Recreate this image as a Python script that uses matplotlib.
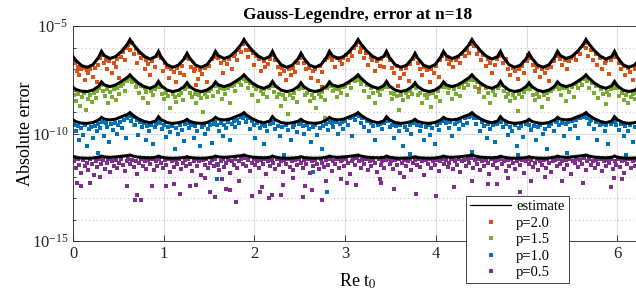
import numpy as np
import matplotlib
matplotlib.use("Agg")
import matplotlib.pyplot as plt
from matplotlib.lines import Line2D
from matplotlib.ticker import FixedLocator, LogFormatterSciNotation, NullFormatter

# ---- data (log10 of the absolute error) ----
est_x = [
    0.000, 0.031, 0.094, 0.157, 0.220, 0.283,
    0.314, 0.345, 0.408, 0.471, 0.534, 0.597,
    0.628, 0.659, 0.722, 0.785, 0.848, 0.911,
    0.942, 0.973, 1.036, 1.099, 1.162, 1.225,
    1.257, 1.288, 1.351, 1.414, 1.477, 1.540,
    1.571, 1.602, 1.665, 1.728, 1.791, 1.854,
    1.885, 1.916, 1.979, 2.042, 2.105, 2.168,
    2.199, 2.230, 2.293, 2.356, 2.419, 2.482,
    2.513, 2.544, 2.607, 2.670, 2.733, 2.796,
    2.827, 2.858, 2.921, 2.984, 3.047, 3.110,
    3.142, 3.173, 3.236, 3.299, 3.362, 3.425,
    3.456, 3.487, 3.550, 3.613, 3.676, 3.739,
    3.770, 3.801, 3.864, 3.927, 3.990, 4.053,
    4.084, 4.115, 4.178, 4.241, 4.304, 4.367,
    4.398, 4.429, 4.492, 4.555, 4.618, 4.681,
    4.712, 4.743, 4.806, 4.869, 4.932, 4.995,
    5.027, 5.058, 5.121, 5.184, 5.247, 5.310,
    5.341, 5.372, 5.435, 5.498, 5.561, 5.624,
    5.655, 5.686, 5.749, 5.812, 5.875, 5.938,
    5.969, 6.000, 6.063, 6.126, 6.189, 6.252,
    6.283]

est_p20 = [
    -6.42, -6.60, -6.84, -6.92, -6.80, -6.45,
    -6.18, -6.38, -6.51, -6.42, -6.18, -5.86,
    -5.63, -5.83, -6.15, -6.40, -6.54, -6.42,
    -6.18, -6.45, -6.80, -6.92, -6.82, -6.52,
    -6.27, -6.50, -6.82, -6.92, -6.80, -6.45,
    -6.18, -6.38, -6.51, -6.42, -6.18, -5.86,
    -5.63, -5.83, -6.15, -6.40, -6.54, -6.42,
    -6.18, -6.45, -6.80, -6.92, -6.82, -6.52,
    -6.27, -6.50, -6.82, -6.92, -6.80, -6.45,
    -6.18, -6.38, -6.51, -6.42, -6.18, -5.86,
    -5.63, -5.83, -6.15, -6.40, -6.54, -6.42,
    -6.18, -6.45, -6.80, -6.92, -6.82, -6.52,
    -6.27, -6.50, -6.82, -6.92, -6.80, -6.45,
    -6.18, -6.38, -6.51, -6.42, -6.18, -5.86,
    -5.63, -5.83, -6.15, -6.40, -6.54, -6.42,
    -6.18, -6.45, -6.80, -6.92, -6.82, -6.52,
    -6.27, -6.50, -6.82, -6.92, -6.80, -6.45,
    -6.18, -6.38, -6.51, -6.42, -6.18, -5.86,
    -5.63, -5.83, -6.15, -6.40, -6.54, -6.42,
    -6.18, -6.45, -6.80, -6.92, -6.82, -6.52,
    -6.27]

est_p15 = [
    -7.85, -7.95, -8.03, -8.05, -7.98, -7.80,
    -7.60, -7.74, -7.82, -7.74, -7.58, -7.40,
    -7.27, -7.42, -7.66, -7.82, -7.90, -7.78,
    -7.58, -7.78, -7.98, -8.05, -7.99, -7.82,
    -7.64, -7.82, -7.99, -8.05, -7.98, -7.80,
    -7.60, -7.74, -7.82, -7.74, -7.58, -7.40,
    -7.27, -7.42, -7.66, -7.82, -7.90, -7.78,
    -7.58, -7.78, -7.98, -8.05, -7.99, -7.82,
    -7.64, -7.82, -7.99, -8.05, -7.98, -7.80,
    -7.60, -7.74, -7.82, -7.74, -7.58, -7.40,
    -7.27, -7.42, -7.66, -7.82, -7.90, -7.78,
    -7.58, -7.78, -7.98, -8.05, -7.99, -7.82,
    -7.64, -7.82, -7.99, -8.05, -7.98, -7.80,
    -7.60, -7.74, -7.82, -7.74, -7.58, -7.40,
    -7.27, -7.42, -7.66, -7.82, -7.90, -7.78,
    -7.58, -7.78, -7.98, -8.05, -7.99, -7.82,
    -7.64, -7.82, -7.99, -8.05, -7.98, -7.80,
    -7.60, -7.74, -7.82, -7.74, -7.58, -7.40,
    -7.27, -7.42, -7.66, -7.82, -7.90, -7.78,
    -7.58, -7.78, -7.98, -8.05, -7.99, -7.82,
    -7.64]

est_p10 = [
    -9.37, -9.45, -9.52, -9.53, -9.49, -9.37,
    -9.25, -9.33, -9.37, -9.33, -9.22, -9.12,
    -9.03, -9.15, -9.32, -9.44, -9.50, -9.42,
    -9.22, -9.36, -9.49, -9.53, -9.50, -9.43,
    -9.34, -9.44, -9.51, -9.53, -9.49, -9.37,
    -9.25, -9.33, -9.37, -9.33, -9.22, -9.12,
    -9.03, -9.15, -9.32, -9.44, -9.50, -9.42,
    -9.22, -9.36, -9.49, -9.53, -9.50, -9.43,
    -9.34, -9.44, -9.51, -9.53, -9.49, -9.37,
    -9.25, -9.33, -9.37, -9.33, -9.22, -9.12,
    -9.03, -9.15, -9.32, -9.44, -9.50, -9.42,
    -9.22, -9.36, -9.49, -9.53, -9.50, -9.43,
    -9.34, -9.44, -9.51, -9.53, -9.49, -9.37,
    -9.25, -9.33, -9.37, -9.33, -9.22, -9.12,
    -9.03, -9.15, -9.32, -9.44, -9.50, -9.42,
    -9.22, -9.36, -9.49, -9.53, -9.50, -9.43,
    -9.34, -9.44, -9.51, -9.53, -9.49, -9.37,
    -9.25, -9.33, -9.37, -9.33, -9.22, -9.12,
    -9.03, -9.15, -9.32, -9.44, -9.50, -9.42,
    -9.22, -9.36, -9.49, -9.53, -9.50, -9.43,
    -9.34]

est_p05 = [
    -11.08, -11.12, -11.14, -11.15, -11.14, -11.10,
    -11.05, -11.09, -11.11, -11.09, -11.06, -11.03,
    -11.00, -11.05, -11.10, -11.12, -11.13, -11.11,
    -11.05, -11.10, -11.14, -11.15, -11.14, -11.12,
    -11.08, -11.12, -11.14, -11.15, -11.14, -11.10,
    -11.05, -11.09, -11.11, -11.09, -11.06, -11.03,
    -11.00, -11.05, -11.10, -11.12, -11.13, -11.11,
    -11.05, -11.10, -11.14, -11.15, -11.14, -11.12,
    -11.08, -11.12, -11.14, -11.15, -11.14, -11.10,
    -11.05, -11.09, -11.11, -11.09, -11.06, -11.03,
    -11.00, -11.05, -11.10, -11.12, -11.13, -11.11,
    -11.05, -11.10, -11.14, -11.15, -11.14, -11.12,
    -11.08, -11.12, -11.14, -11.15, -11.14, -11.10,
    -11.05, -11.09, -11.11, -11.09, -11.06, -11.03,
    -11.00, -11.05, -11.10, -11.12, -11.13, -11.11,
    -11.05, -11.10, -11.14, -11.15, -11.14, -11.12,
    -11.08, -11.12, -11.14, -11.15, -11.14, -11.10,
    -11.05, -11.09, -11.11, -11.09, -11.06, -11.03,
    -11.00, -11.05, -11.10, -11.12, -11.13, -11.11,
    -11.05, -11.10, -11.14, -11.15, -11.14, -11.12,
    -11.08]

p20_x = [0.02, 0.04, 0.05, 0.07, 0.09, 0.11, 0.13, 0.15, 0.16, 0.19, 0.22, 0.24, 0.26, 0.28, 0.30, 0.32, 0.34, 0.36, 0.38, 0.40,
         0.43, 0.45, 0.47, 0.49, 0.51, 0.53, 0.55, 0.57, 0.59, 0.61, 0.63, 0.65, 0.67, 0.69, 0.71, 0.73, 0.75, 0.77, 0.79, 0.81,
         0.83, 0.85, 0.87, 0.90, 0.93, 0.95, 0.97, 0.99, 1.01, 1.04, 1.06, 1.08, 1.11, 1.13, 1.15, 1.18, 1.20, 1.22, 1.24, 1.26,
         1.28, 1.30, 1.33, 1.35, 1.38, 1.40, 1.42, 1.45, 1.48, 1.50, 1.53, 1.55, 1.58, 1.60, 1.63, 1.65, 1.67, 1.70, 1.72, 1.75,
         1.77, 1.79, 1.81, 1.83, 1.85, 1.87, 1.89, 1.91, 1.93, 1.95, 1.98, 2.00, 2.02, 2.05, 2.07, 2.10, 2.12, 2.15, 2.17, 2.19,
         2.21, 2.23, 2.26, 2.28, 2.30, 2.33, 2.35, 2.38, 2.40, 2.43, 2.45, 2.48, 2.50, 2.52, 2.55, 2.57, 2.60, 2.62, 2.65, 2.67,
         2.70, 2.72, 2.75, 2.78, 2.80, 2.82, 2.84, 2.86, 2.89, 2.91, 2.94, 2.96, 2.98, 3.01, 3.03, 3.05, 3.08, 3.10, 3.12, 3.14,
         3.16, 3.18, 3.21, 3.23, 3.25, 3.28, 3.30, 3.33, 3.35, 3.38, 3.40, 3.43, 3.45, 3.47, 3.49, 3.52, 3.54, 3.57, 3.60, 3.62,
         3.65, 3.67, 3.70, 3.72, 3.75, 3.77, 3.80, 3.82, 3.85, 3.87, 3.90, 3.93, 3.95, 3.98, 4.00, 4.03, 4.05, 4.07, 4.09, 4.12,
         4.14, 4.17, 4.19, 4.22, 4.24, 4.27, 4.29, 4.32, 4.34, 4.36, 4.38, 4.40, 4.42, 4.45, 4.47, 4.50, 4.52, 4.55, 4.57, 4.60,
         4.62, 4.65, 4.67, 4.70, 4.72, 4.74, 4.77, 4.79, 4.82, 4.85, 4.87, 4.90, 4.92, 4.95, 4.97, 5.00, 5.02, 5.04, 5.07, 5.09,
         5.12, 5.15, 5.17, 5.20, 5.22, 5.25, 5.27, 5.30, 5.32, 5.34, 5.37, 5.39, 5.42, 5.44, 5.47, 5.49, 5.52, 5.54, 5.57, 5.59,
         5.62, 5.64, 5.66, 5.68, 5.71, 5.73, 5.76, 5.78, 5.81, 5.83, 5.86, 5.88, 5.91, 5.93, 5.95, 5.97, 5.99, 6.02, 6.04, 6.07,
         6.09, 6.12, 6.14, 6.17, 6.19, 6.20, 0.48, 2.75, 4.47, 5.98, 1.36, 3.58]
p20_y = [-6.70, -7.10, -6.90, -7.30, -7.00, -6.95, -7.50, -7.05, -7.20, -7.00, -7.35, -6.95, -7.60, -6.80, -6.50, -6.35, -6.70, -6.60, -7.00, -6.65,
         -7.20, -6.70, -6.90, -6.55, -7.40, -6.45, -6.20, -6.60, -6.00, -5.90, -6.10, -5.80, -6.30, -6.05, -6.70, -6.25, -6.50, -6.40, -7.00, -6.60,
         -6.75, -7.30, -6.65, -6.90, -6.40, -6.35, -6.50, -7.10, -6.70, -6.90, -7.40, -7.00, -7.15, -7.60, -6.95, -7.20, -6.85, -7.30, -6.50, -6.40,
         -6.55, -6.90, -7.10, -7.00, -7.45, -7.05, -7.25, -6.95, -7.60, -6.85, -6.55, -6.45, -6.35, -6.50, -6.70, -7.20, -6.60, -6.75, -6.55, -7.00,
         -6.40, -6.30, -6.60, -6.10, -6.20, -5.85, -5.75, -6.10, -6.45, -6.10, -6.25, -6.80, -6.40, -6.55, -7.10, -6.65, -6.90, -6.75, -6.55, -6.35,
         -6.35, -6.60, -6.90, -7.25, -6.95, -7.10, -7.50, -7.00, -7.30, -6.95, -7.15, -6.70, -6.50, -6.40, -6.70, -7.00, -6.95, -7.40, -7.10, -7.00,
         -7.55, -6.85, -7.15, -6.60, -6.50, -6.35, -6.45, -6.60, -6.90, -6.50, -6.60, -6.75, -6.50, -6.35, -6.60, -6.20, -6.40, -6.00, -5.90, -5.75,
         -6.20, -6.00, -6.50, -6.25, -6.80, -6.45, -6.60, -7.10, -6.65, -6.85, -6.55, -6.90, -6.35, -6.40, -6.60, -6.95, -7.20, -6.85, -7.40, -7.00,
         -7.25, -6.95, -7.55, -6.75, -6.55, -6.45, -6.70, -7.00, -7.30, -6.90, -7.05, -7.60, -7.00, -7.20, -6.85, -7.35, -6.60, -6.40, -6.30, -6.55,
         -6.75, -6.60, -6.90, -6.60, -6.45, -6.70, -6.30, -6.40, -6.10, -6.25, -5.85, -5.75, -5.95, -6.30, -6.15, -6.60, -6.35, -6.85, -6.55, -6.70,
         -7.20, -6.80, -6.55, -6.40, -6.35, -6.70, -6.55, -7.00, -7.30, -6.95, -7.10, -7.45, -7.00, -6.85, -7.20, -6.65, -6.35, -6.50, -6.80, -7.10,
         -6.90, -7.35, -7.00, -7.20, -6.95, -7.55, -6.90, -6.65, -6.40, -6.35, -6.55, -6.80, -6.60, -7.00, -6.65, -6.50, -6.40, -6.60, -6.20, -6.30,
         -5.95, -5.80, -6.00, -6.40, -6.10, -6.60, -6.30, -6.80, -6.50, -7.00, -6.70, -6.65, -7.25, -6.60, -6.45, -6.30, -6.45, -6.70, -7.00, -6.85,
         -7.30, -6.95, -7.15, -7.50, -7.00, -6.85, -7.90, -7.85, -7.95, -7.90, -7.75, -7.80]

p15_x = [0.01, 0.03, 0.05, 0.08, 0.10, 0.12, 0.14, 0.17, 0.19, 0.21, 0.23, 0.25, 0.27, 0.29, 0.31, 0.33, 0.35, 0.37, 0.39, 0.41,
         0.43, 0.45, 0.47, 0.49, 0.51, 0.53, 0.55, 0.57, 0.59, 0.61, 0.63, 0.65, 0.67, 0.69, 0.71, 0.73, 0.75, 0.77, 0.79, 0.81,
         0.83, 0.86, 0.88, 0.90, 0.92, 0.94, 0.96, 0.98, 1.00, 1.03, 1.05, 1.07, 1.10, 1.12, 1.14, 1.17, 1.19, 1.21, 1.23, 1.25,
         1.27, 1.29, 1.31, 1.34, 1.36, 1.39, 1.41, 1.43, 1.46, 1.48, 1.50, 1.52, 1.54, 1.56, 1.58, 1.60, 1.62, 1.64, 1.66, 1.68,
         1.71, 1.73, 1.75, 1.77, 1.79, 1.81, 1.83, 1.85, 1.87, 1.89, 1.91, 1.93, 1.95, 1.97, 2.00, 2.02, 2.04, 2.07, 2.09, 2.11,
         2.14, 2.16, 2.18, 2.20, 2.22, 2.25, 2.27, 2.29, 2.32, 2.34, 2.37, 2.39, 2.42, 2.44, 2.47, 2.49, 2.51, 2.53, 2.56, 2.58,
         2.61, 2.63, 2.66, 2.68, 2.71, 2.73, 2.75, 2.78, 2.80, 2.82, 2.84, 2.87, 2.89, 2.91, 2.93, 2.95, 2.98, 3.00, 3.02, 3.04,
         3.06, 3.09, 3.11, 3.13, 3.15, 3.17, 3.19, 3.21, 3.24, 3.26, 3.28, 3.31, 3.33, 3.36, 3.38, 3.41, 3.43, 3.45, 3.47, 3.50,
         3.52, 3.54, 3.57, 3.59, 3.62, 3.64, 3.67, 3.69, 3.71, 3.74, 3.76, 3.78, 3.80, 3.83, 3.85, 3.88, 3.90, 3.92, 3.95, 3.97,
         4.00, 4.02, 4.04, 4.06, 4.08, 4.10, 4.13, 4.15, 4.18, 4.20, 4.22, 4.25, 4.27, 4.29, 4.31, 4.33, 4.35, 4.37, 4.39, 4.41,
         4.43, 4.45, 4.48, 4.50, 4.53, 4.55, 4.58, 4.60, 4.63, 4.65, 4.68, 4.70, 4.72, 4.75, 4.77, 4.80, 4.82, 4.85, 4.87, 4.90,
         4.92, 4.95, 4.97, 5.00, 5.02, 5.04, 5.07, 5.09, 5.12, 5.14, 5.17, 5.19, 5.22, 5.24, 5.27, 5.29, 5.31, 5.33, 5.36, 5.38,
         5.40, 5.43, 5.45, 5.47, 5.50, 5.52, 5.54, 5.57, 5.59, 5.61, 5.63, 5.65, 5.67, 5.69, 5.72, 5.74, 5.77, 5.79, 5.82, 5.84,
         5.87, 5.89, 5.91, 5.93, 5.95, 5.97, 6.00, 6.02, 6.05, 6.07, 6.10, 6.12, 6.15, 6.17, 6.19, 6.20,
         0.67, 2.78, 3.93, 5.05, 5.70]
p15_y = [-8.20, -8.50, -8.15, -8.70, -8.30, -8.10, -8.90, -8.40, -8.20, -8.55, -8.10, -8.35, -8.00, -7.90, -7.75, -8.00, -8.25, -7.95, -8.60, -8.05,
         -8.30, -7.95, -8.45, -7.90, -8.15, -7.80, -7.70, -8.00, -7.55, -7.45, -7.40, -7.60, -7.55, -7.85, -7.70, -8.10, -7.80, -8.35, -7.90, -8.05,
         -8.60, -8.00, -8.20, -7.95, -7.85, -7.70, -7.85, -8.15, -8.40, -8.10, -8.25, -8.80, -8.15, -8.30, -8.55, -8.20, -8.10, -8.45, -7.95, -7.80,
         -7.85, -8.10, -8.30, -8.15, -8.60, -8.20, -8.35, -9.00, -8.15, -8.30, -8.00, -7.95, -8.25, -7.75, -7.80, -8.05, -7.90, -8.40, -7.95, -8.15,
         -7.90, -8.60, -7.80, -7.75, -8.00, -7.60, -7.55, -7.75, -7.40, -7.45, -7.55, -7.90, -7.65, -8.20, -7.80, -7.95, -8.50, -8.00, -8.15, -7.95,
         -8.30, -7.90, -7.80, -7.80, -8.05, -8.30, -8.15, -8.70, -8.20, -8.40, -9.10, -8.20, -8.35, -8.10, -8.55, -7.95, -7.80, -7.90, -8.20, -8.10,
         -8.50, -8.20, -8.35, -8.80, -8.15, -8.30, -8.05, -8.45, -7.90, -7.75, -7.80, -8.00, -7.95, -8.30, -7.95, -8.10, -7.85, -7.80, -8.20, -7.65,
         -7.90, -7.50, -7.55, -7.40, -7.50, -7.70, -7.55, -8.00, -7.75, -8.30, -7.90, -8.10, -8.60, -8.00, -8.20, -7.95, -7.85, -7.75, -7.85, -8.10,
         -8.40, -8.15, -8.25, -8.90, -8.20, -8.45, -8.10, -8.30, -8.00, -8.15, -7.80, -7.90, -8.20, -8.10, -8.60, -8.20, -8.35, -8.15, -8.75, -8.10,
         -8.30, -8.00, -8.50, -7.85, -7.75, -7.85, -8.10, -7.90, -8.40, -7.95, -8.15, -7.85, -8.25, -7.70, -7.90, -7.60, -7.75, -7.50, -7.40, -7.50,
         -7.85, -7.60, -8.05, -7.75, -8.30, -7.90, -8.10, -8.60, -8.00, -8.20, -7.90, -7.80, -7.75, -8.00, -8.30, -8.15, -8.50, -8.20, -8.35, -8.95,
         -8.15, -8.30, -8.05, -7.95, -7.80, -7.95, -8.20, -8.45, -8.15, -8.30, -8.75, -8.20, -8.10, -8.40, -8.00, -7.95, -7.85, -7.75, -7.95, -8.20,
         -7.90, -8.50, -7.90, -8.05, -7.85, -8.30, -7.70, -7.90, -7.55, -7.75, -7.45, -7.35, -7.55, -7.90, -7.65, -8.10, -7.80, -8.35, -7.95, -8.15,
         -8.65, -8.05, -8.20, -7.95, -7.85, -7.75, -7.90, -8.25, -8.10, -8.45, -8.20, -8.60, -8.30, -8.15, -8.40, -8.10,
         -9.60, -9.30, -9.60, -9.80, -9.40]

p10_x = [0.01, 0.03, 0.05, 0.07, 0.09, 0.11, 0.13, 0.15, 0.18, 0.20, 0.22, 0.24, 0.26, 0.28, 0.30, 0.32, 0.34, 0.36, 0.38, 0.40,
         0.42, 0.44, 0.46, 0.48, 0.50, 0.52, 0.54, 0.56, 0.58, 0.60, 0.62, 0.64, 0.66, 0.68, 0.70, 0.72, 0.74, 0.76, 0.78, 0.80,
         0.82, 0.84, 0.86, 0.88, 0.90, 0.92, 0.94, 0.96, 0.98, 1.00, 1.02, 1.05, 1.07, 1.09, 1.12, 1.14, 1.16, 1.18, 1.20, 1.22,
         1.24, 1.26, 1.28, 1.30, 1.33, 1.35, 1.37, 1.40, 1.42, 1.44, 1.46, 1.49, 1.51, 1.53, 1.55, 1.57, 1.59, 1.61, 1.63, 1.65,
         1.67, 1.69, 1.71, 1.73, 1.75, 1.77, 1.79, 1.81, 1.83, 1.85, 1.87, 1.89, 1.91, 1.93, 1.95, 1.97, 1.99, 2.01, 2.03, 2.06,
         2.08, 2.10, 2.12, 2.14, 2.17, 2.19, 2.21, 2.23, 2.26, 2.28, 2.30, 2.33, 2.35, 2.37, 2.40, 2.42, 2.44, 2.47, 2.49, 2.51,
         2.53, 2.55, 2.58, 2.60, 2.62, 2.65, 2.67, 2.69, 2.72, 2.74, 2.76, 2.79, 2.81, 2.83, 2.85, 2.87, 2.90, 2.92, 2.94, 2.96,
         2.98, 3.00, 3.03, 3.05, 3.07, 3.09, 3.11, 3.13, 3.15, 3.17, 3.19, 3.21, 3.24, 3.26, 3.28, 3.31, 3.33, 3.36, 3.38, 3.41,
         3.43, 3.45, 3.47, 3.49, 3.52, 3.54, 3.56, 3.59, 3.61, 3.64, 3.66, 3.68, 3.71, 3.73, 3.75, 3.77, 3.79, 3.82, 3.84, 3.87,
         3.89, 3.91, 3.94, 3.96, 3.99, 4.01, 4.03, 4.05, 4.07, 4.09, 4.11, 4.14, 4.16, 4.18, 4.21, 4.23, 4.25, 4.27, 4.30, 4.32,
         4.34, 4.36, 4.38, 4.40, 4.42, 4.44, 4.46, 4.49, 4.51, 4.53, 4.56, 4.58, 4.60, 4.63, 4.65, 4.67, 4.70, 4.72, 4.74, 4.77,
         4.79, 4.82, 4.84, 4.87, 4.89, 4.92, 4.94, 4.96, 4.99, 5.01, 5.03, 5.05, 5.08, 5.10, 5.13, 5.15, 5.18, 5.20, 5.23, 5.25,
         5.27, 5.30, 5.32, 5.34, 5.36, 5.39, 5.41, 5.43, 5.46, 5.48, 5.50, 5.53, 5.55, 5.57, 5.59, 5.61, 5.63, 5.65, 5.67, 5.69,
         5.71, 5.74, 5.76, 5.78, 5.81, 5.83, 5.86, 5.88, 5.90, 5.93, 5.95, 5.97, 5.99, 6.02, 6.04, 6.07, 6.09, 6.12, 6.14, 6.17,
         6.19, 1.60, 1.59, 2.65, 2.80, 4.90, 0.28, 3.72, 5.45, 6.10, 4.40]
p10_y = [-9.60, -9.90, -9.65, -10.30, -9.75, -10.05, -9.60, -10.60, -9.80, -9.70, -10.20, -9.65, -9.90, -9.55, -9.75, -9.45, -10.10, -9.50, -9.70, -10.40,
         -9.55, -9.85, -9.50, -10.00, -9.60, -9.45, -9.75, -9.35, -10.20, -9.30, -9.20, -9.40, -9.25, -9.60, -9.35, -10.05, -9.45, -9.70, -9.50, -10.30,
         -9.65, -9.90, -9.60, -10.50, -9.70, -9.55, -9.40, -9.50, -9.80, -9.60, -10.15, -9.70, -9.95, -9.65, -10.70, -9.75, -10.00, -9.60, -9.85, -10.35,
         -9.55, -9.50, -9.75, -9.60, -10.20, -9.65, -9.90, -10.60, -9.70, -9.60, -10.00, -9.80, -9.60, -10.45, -9.55, -9.45, -9.60, -9.90, -9.50, -10.10,
         -9.60, -9.75, -9.45, -10.30, -9.55, -9.40, -9.70, -9.35, -9.50, -9.25, -9.30, -9.20, -9.45, -9.30, -9.80, -9.40, -9.60, -10.20, -9.50, -9.75,
         -9.60, -10.50, -9.65, -9.90, -9.55, -9.45, -9.50, -9.80, -9.65, -10.10, -9.70, -11.00, -9.60, -9.85, -10.30, -9.70, -9.60, -9.95, -9.55, -9.50,
         -9.65, -10.00, -9.60, -9.80, -10.40, -9.70, -9.60, -10.05, -9.75, -10.70, -9.65, -9.55, -9.85, -9.45, -9.50, -9.70, -9.45, -10.00, -9.55, -9.45,
         -9.80, -9.40, -9.60, -9.30, -10.10, -9.25, -9.35, -9.15, -9.20, -9.50, -9.30, -9.70, -9.40, -9.90, -9.50, -9.65, -10.30, -9.60, -9.55, -9.80,
         -9.50, -9.35, -9.40, -9.70, -9.60, -10.20, -9.65, -9.90, -9.60, -10.60, -9.70, -9.85, -9.60, -10.00, -9.50, -9.45, -9.60, -9.90, -9.65, -10.30,
         -9.70, -9.60, -10.05, -9.75, -10.50, -9.60, -9.85, -9.50, -9.40, -9.35, -9.50, -9.75, -9.45, -10.10, -9.55, -9.45, -9.80, -9.40, -9.60, -9.30,
         -9.50, -9.25, -9.20, -9.15, -9.30, -9.55, -9.30, -9.90, -9.45, -9.65, -10.20, -9.55, -9.80, -9.60, -10.40, -9.55, -9.40, -9.45, -9.70, -9.55,
         -10.05, -9.70, -9.90, -9.60, -10.60, -9.75, -9.65, -10.15, -9.55, -9.50, -9.60, -9.85, -9.65, -10.30, -9.70, -9.60, -10.00, -9.80, -10.70, -9.65,
         -9.55, -9.90, -9.45, -9.40, -9.60, -9.50, -10.10, -9.55, -9.45, -9.80, -9.40, -9.65, -9.35, -10.20, -9.30, -9.20, -9.25, -9.15, -9.30, -9.55,
         -9.35, -9.80, -9.45, -10.30, -9.60, -9.55, -9.90, -9.60, -10.50, -9.55, -9.45, -9.40, -9.60, -9.85, -9.55, -10.10, -9.65, -9.90, -9.60, -10.40,
         -9.70, -11.45, -12.10, -11.80, -12.70, -11.00, -10.90, -10.95, -10.90, -11.00, -10.85]

p05_x = [0.01, 0.03, 0.05, 0.07, 0.09, 0.11, 0.13, 0.15, 0.17, 0.19, 0.21, 0.23, 0.25, 0.27, 0.29, 0.31, 0.33, 0.35, 0.37, 0.39,
         0.41, 0.43, 0.45, 0.47, 0.49, 0.51, 0.53, 0.55, 0.57, 0.59, 0.61, 0.63, 0.65, 0.67, 0.69, 0.71, 0.73, 0.75, 0.77, 0.79,
         0.81, 0.83, 0.85, 0.87, 0.89, 0.91, 0.93, 0.95, 0.97, 0.99, 1.01, 1.03, 1.05, 1.07, 1.09, 1.11, 1.13, 1.15, 1.17, 1.19,
         1.21, 1.23, 1.25, 1.27, 1.29, 1.31, 1.33, 1.35, 1.37, 1.39, 1.41, 1.43, 1.45, 1.47, 1.49, 1.51, 1.53, 1.55, 1.57, 1.59,
         1.61, 1.63, 1.65, 1.67, 1.69, 1.71, 1.73, 1.75, 1.77, 1.79, 1.81, 1.83, 1.85, 1.87, 1.89, 1.91, 1.93, 1.95, 1.97, 1.99,
         2.01, 2.03, 2.05, 2.07, 2.09, 2.11, 2.13, 2.15, 2.17, 2.19, 2.21, 2.23, 2.25, 2.27, 2.29, 2.31, 2.33, 2.35, 2.37, 2.39,
         2.41, 2.43, 2.45, 2.47, 2.49, 2.51, 2.53, 2.55, 2.57, 2.59, 2.61, 2.63, 2.65, 2.67, 2.69, 2.71, 2.73, 2.75, 2.77, 2.79,
         2.81, 2.83, 2.85, 2.87, 2.89, 2.91, 2.93, 2.95, 2.97, 2.99, 3.01, 3.03, 3.05, 3.07, 3.09, 3.11, 3.13, 3.15, 3.17, 3.19,
         3.21, 3.23, 3.25, 3.27, 3.29, 3.31, 3.33, 3.35, 3.37, 3.39, 3.41, 3.43, 3.45, 3.47, 3.49, 3.51, 3.53, 3.55, 3.57, 3.59,
         3.61, 3.63, 3.65, 3.67, 3.69, 3.71, 3.73, 3.75, 3.77, 3.79, 3.81, 3.83, 3.85, 3.87, 3.89, 3.91, 3.93, 3.95, 3.97, 3.99,
         4.01, 4.03, 4.05, 4.07, 4.09, 4.11, 4.13, 4.15, 4.17, 4.19, 4.21, 4.23, 4.25, 4.27, 4.29, 4.31, 4.33, 4.35, 4.37, 4.39,
         4.41, 4.43, 4.45, 4.47, 4.49, 4.51, 4.53, 4.55, 4.57, 4.59, 4.61, 4.63, 4.65, 4.67, 4.69, 4.71, 4.73, 4.75, 4.77, 4.79,
         4.81, 4.83, 4.85, 4.87, 4.89, 4.91, 4.93, 4.95, 4.97, 4.99, 5.01, 5.03, 5.05, 5.07, 5.09, 5.11, 5.13, 5.15, 5.17, 5.19,
         5.21, 5.23, 5.25, 5.27, 5.29, 5.31, 5.33, 5.35, 5.37, 5.39, 5.41, 5.43, 5.45, 5.47, 5.49, 5.51, 5.53, 5.55, 5.57, 5.59,
         5.61, 5.63, 5.65, 5.67, 5.69, 5.71, 5.73, 5.75, 5.77, 5.79, 5.81, 5.83, 5.85, 5.87, 5.89, 5.91, 5.93, 5.95, 5.97, 5.99,
         6.01, 6.03, 6.05, 6.07, 6.09, 6.11, 6.13, 6.15, 6.17, 6.19, 6.20,
         0.04, 0.09, 0.19, 0.59, 0.70, 0.68, 0.75, 0.87, 1.02, 1.11, 1.18, 1.29, 1.36, 1.51, 1.56, 1.64, 1.69, 1.73, 1.80, 1.83,
         1.97, 2.06, 2.08, 2.16, 2.19, 2.29, 2.32, 2.43, 2.54, 2.56, 2.64, 2.74, 2.79, 3.02, 3.12, 3.38, 3.40, 3.54, 3.78, 4.00,
         4.20, 4.40, 4.58, 4.67, 4.93, 5.05, 5.20, 5.39, 5.62, 5.93, 5.96, 0.30, 1.45, 2.95, 3.65, 4.80, 6.05]
p05_y = [-11.30, -11.60, -11.20, -11.45, -11.85, -11.25, -11.50, -11.35, -11.70, -11.20, -11.40, -11.95, -11.30, -11.55, -11.20, -11.40, -11.25, -11.65, -11.35, -11.20,
         -11.80, -11.30, -11.50, -11.25, -11.60, -11.35, -11.20, -11.45, -11.75, -11.30, -11.20, -11.40, -11.25, -11.55, -11.30, -11.90, -11.35, -11.20, -11.50, -11.30,
         -11.65, -11.25, -11.40, -11.20, -11.70, -11.30, -11.50, -11.20, -11.35, -11.60, -11.25, -11.45, -11.20, -11.80, -11.30, -11.55, -11.25, -11.40, -11.20, -11.65,
         -11.35, -11.25, -11.50, -11.20, -11.40, -11.75, -11.30, -11.20, -11.50, -11.30, -11.95, -11.25, -11.45, -11.20, -11.60, -11.35, -11.25, -11.50, -11.20, -11.40,
         -11.70, -11.30, -11.20, -11.55, -11.35, -11.25, -11.85, -11.30, -11.45, -11.20, -11.60, -11.30, -11.20, -11.40, -11.15, -11.50, -11.25, -11.75, -11.35, -11.20,
         -11.45, -11.30, -11.60, -11.25, -11.40, -11.20, -11.90, -11.30, -11.50, -11.25, -11.35, -11.65, -11.20, -11.45, -11.30, -11.80, -11.25, -11.40, -11.20, -11.55,
         -11.30, -11.70, -11.25, -11.45, -11.20, -11.35, -11.60, -11.25, -11.40, -11.20, -11.85, -11.30, -11.50, -11.25, -11.40, -11.65, -11.20, -11.35, -11.55, -11.25,
         -11.45, -11.20, -11.75, -11.30, -11.40, -11.20, -11.60, -11.30, -11.25, -11.50, -11.20, -11.35, -11.90, -11.30, -11.20, -11.45, -11.15, -11.30, -11.60, -11.25,
         -11.40, -11.20, -11.70, -11.30, -11.50, -11.25, -11.35, -11.80, -11.20, -11.45, -11.30, -11.60, -11.25, -11.20, -11.40, -11.30, -11.65, -11.25, -11.45, -11.20,
         -11.85, -11.35, -11.25, -11.50, -11.30, -11.20, -11.70, -11.35, -11.25, -11.45, -11.20, -11.55, -11.30, -11.95, -11.25, -11.40, -11.20, -11.60, -11.30, -11.45,
         -11.25, -11.75, -11.30, -11.20, -11.40, -11.25, -11.55, -11.35, -11.20, -11.65, -11.30, -11.45, -11.20, -11.80, -11.30, -11.25, -11.50, -11.20, -11.35, -11.15,
         -11.60, -11.25, -11.40, -11.20, -11.70, -11.30, -11.50, -11.25, -11.35, -11.90, -11.20, -11.45, -11.30, -11.60, -11.25, -11.20, -11.40, -11.30, -11.75, -11.25,
         -11.50, -11.20, -11.35, -11.65, -11.30, -11.20, -11.45, -11.25, -11.85, -11.30, -11.20, -11.40, -11.25, -11.55, -11.35, -11.20, -11.70, -11.30, -11.45, -11.25,
         -11.60, -11.20, -11.35, -11.80, -11.30, -11.25, -11.50, -11.20, -11.40, -11.30, -11.65, -11.25, -11.45, -11.20, -11.90, -11.30, -11.35, -11.20, -11.55, -11.25,
         -11.40, -11.15, -11.70, -11.30, -11.20, -11.45, -11.30, -11.60, -11.25, -11.40, -11.20, -11.75, -11.30, -11.50, -11.25, -11.35, -11.20, -11.65, -11.30, -11.45,
         -11.20, -11.55, -11.30, -11.85, -11.25, -11.40, -11.20, -11.60, -11.30, -11.50, -11.25,
         -12.30, -12.45, -12.30, -12.45, -12.85, -13.10, -13.10, -12.45, -12.45, -12.35, -12.80, -12.45, -12.40, -12.70, -12.95, -12.10, -12.60, -12.65, -13.20, -12.20,
         -12.90, -12.70, -12.50, -13.00, -12.85, -12.85, -12.40, -12.05, -12.95, -12.45, -12.65, -13.10, -12.20, -12.30, -12.40, -12.10, -12.30, -12.60, -12.80, -12.90,
         -12.50, -12.20, -12.35, -12.35, -12.70, -12.20, -12.00, -12.20, -12.30, -12.50, -12.05, -12.00, -12.05, -12.10, -12.00, -12.05, -12.10]

colors = ["#D95319", "#77AC30", "#0072BD", "#7E2F8E"]
labels = ["p=2.0", "p=1.5", "p=1.0", "p=0.5"]
x_ticks = [0, 1, 2, 3, 4, 5, 6]
# the "5" label sits under the legend box in the original
x_ticklabels = ["0", "1", "2", "3", "4", "", "6"]

plt.rcParams["font.family"] = ["Liberation Serif", "DejaVu Serif"]
plt.rcParams["mathtext.fontset"] = "stix"

fig = plt.figure(figsize=(6.36, 3.0), dpi=100)
ax = fig.add_axes([73 / 636, 59 / 300, 570 / 636, 215 / 300])

series = [(p20_x, p20_y), (p15_x, p15_y), (p10_x, p10_y), (p05_x, p05_y)]
for (sx, sy), c in zip(series, colors):
    ax.plot(sx, 10.0 ** np.array(sy), linestyle="none", marker="s", ms=2.2,
            mew=0, color=c, zorder=2)

for ey in [est_p20, est_p15, est_p10, est_p05]:
    ax.plot(est_x, 10.0 ** np.array(ey), color="black", lw=2.2, zorder=3,
            solid_joinstyle="miter")

ax.set_yscale("log")
ax.set_xlim(0, 2 * np.pi)
ax.set_ylim(1e-15, 1e-5)
ax.set_xticks(x_ticks)
ax.set_xticklabels(x_ticklabels)
ax.yaxis.set_major_locator(FixedLocator([1e-15, 1e-10, 1e-5]))
ax.yaxis.set_major_formatter(LogFormatterSciNotation())
ax.yaxis.set_minor_locator(FixedLocator([10.0 ** k for k in range(-15, -4)]))
ax.yaxis.set_minor_formatter(NullFormatter())

ax.grid(True, which="major", color="#dedede", lw=0.8, ls="-")
ax.grid(True, which="minor", axis="y", color="#c8c8c8", lw=0.8, ls=(0, (1, 2.5)))
ax.set_axisbelow(True)
ax.tick_params(which="both", direction="in", colors="#262626", labelsize=12,
               width=0.6)
ax.tick_params(which="major", length=4)
ax.tick_params(which="minor", length=2)
for s in ax.spines.values():
    s.set_color("#262626")
    s.set_linewidth(0.6)

ax.set_title("Gauss-Legendre, error at n=18", fontsize=12.5, fontweight="bold", pad=5)
ax.set_ylabel("Absolute error", fontsize=13, labelpad=-2)
ax.set_xlabel(r"Re t$_0$", fontsize=13, labelpad=7)

handles = [Line2D([], [], color="black", lw=0.9)]
for c in colors:
    handles.append(Line2D([], [], linestyle="none", marker="s", ms=2.2, mew=0, color=c))
leg = ax.legend(handles, ["estimate"] + labels, loc="upper left",
                bbox_to_anchor=(0.689, 0.21), fontsize=10.5, frameon=True,
                fancybox=False, edgecolor="#262626", framealpha=1,
                handlelength=2.8, handletextpad=0.35, labelspacing=0.22,
                borderpad=0.3, borderaxespad=0)
leg.get_frame().set_linewidth(0.6)
leg.set_zorder(5)

fig.savefig("out.png", dpi=100)
